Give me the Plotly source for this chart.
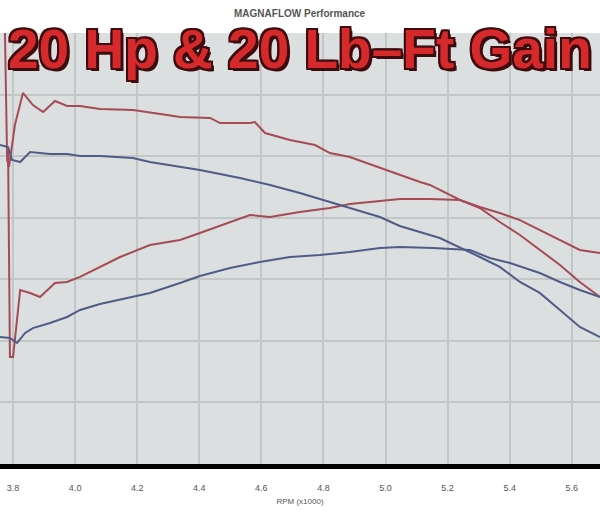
import plotly.graph_objects as go

# RPM (x1000) and readings
red_tq_rpm = [3.774, 3.781, 3.787, 3.806, 3.832, 3.864, 3.897, 3.935, 3.974, 4.016, 4.080, 4.187, 4.296,
              4.338, 4.435, 4.467, 4.563, 4.579, 4.612, 4.692, 4.773, 4.821, 4.885, 4.982, 5.046, 5.111,
              5.143, 5.240, 5.304, 5.368, 5.433, 5.497, 5.562, 5.626, 5.691]
red_tq = [350.0, 246.9, 241.2, 275.3, 301.3, 291.5, 285.8, 294.8, 290.7, 290.7, 288.3, 287.5, 283.4,
          281.8, 281.0, 276.9, 276.9, 277.7, 268.8, 263.1, 259.0, 252.5, 249.3, 240.4, 234.7, 229.0,
          226.6, 214.4, 207.9, 196.5, 186.0, 173.8, 161.6, 147.8, 135.6]

red_hp_rpm = [3.784, 3.790, 3.800, 3.823, 3.855, 3.887, 3.935, 3.974, 4.016, 4.080, 4.145, 4.241, 4.338,
              4.402, 4.499, 4.563, 4.628, 4.724, 4.821, 4.885, 4.982, 5.046, 5.143, 5.240, 5.304, 5.368,
              5.433, 5.497, 5.562, 5.626, 5.691]
red_hp = [255.0, 86.9, 86.9, 141.3, 138.9, 135.6, 147.0, 147.8, 151.9, 160.0, 168.1, 177.8, 181.9,
          187.6, 196.5, 202.2, 200.6, 204.6, 207.9, 211.1, 213.6, 215.2, 215.2, 214.4, 208.7, 203.8,
          198.1, 190.0, 181.9, 173.8, 171.3]

blue_tq_rpm = [3.758, 3.784, 3.797, 3.823, 3.855, 3.919, 3.974, 4.016, 4.080, 4.186, 4.241, 4.296, 4.402,
               4.531, 4.628, 4.724, 4.821, 4.885, 4.982, 5.046, 5.175, 5.304, 5.368, 5.433, 5.497, 5.562,
               5.626, 5.691]
blue_tq = [259.0, 257.4, 246.9, 245.2, 253.4, 251.7, 251.7, 250.1, 250.1, 248.5, 245.2, 242.8, 238.7,
           232.2, 226.6, 220.1, 212.8, 207.9, 200.6, 193.3, 183.5, 168.1, 160.0, 147.8, 138.9, 125.1,
           111.3, 103.1]

blue_hp_rpm = [3.758, 3.790, 3.813, 3.839, 3.864, 3.919, 3.974, 4.016, 4.080, 4.241, 4.338, 4.402, 4.499,
               4.595, 4.692, 4.789, 4.885, 4.982, 5.046, 5.153, 5.272, 5.336, 5.401, 5.497, 5.562, 5.626,
               5.691]
blue_hp = [103.1, 102.3, 98.3, 106.4, 110.4, 114.5, 119.4, 125.1, 129.9, 138.9, 147.0, 152.7, 159.2,
           164.0, 168.1, 169.7, 172.2, 175.4, 176.2, 175.4, 173.8, 167.3, 163.2, 155.1, 147.8, 141.3,
           135.6]

tick_vals = [3.8, 4.0, 4.2, 4.4, 4.6, 4.8, 5.0, 5.2, 5.4, 5.6]
tick_text = ["3.8", "4.0", "4.2", "4.4", "4.6", "4.8", "5.0", "5.2", "5.4", "5.6"]

RED = "#a54b56"
BLUE = "#4f5c88"

fig = go.Figure()
for xs, ys, col in [(red_tq_rpm, red_tq, RED), (red_hp_rpm, red_hp, RED),
                    (blue_tq_rpm, blue_tq, BLUE), (blue_hp_rpm, blue_hp, BLUE)]:
    fig.add_trace(go.Scatter(x=xs, y=ys, mode="lines",
                             line=dict(color=col, width=2), showlegend=False,
                             hoverinfo="skip"))

outline = "#3c0c0e"
shadow = ", ".join(f"{dx}px {dy}px 0 {outline}" for dx, dy in
                   [(-2, -2), (2, -2), (-2, 2), (2, 2), (0, -2), (0, 2), (-2, 0), (2, 0), (3, 3)])

fig.update_layout(
    width=600, height=515,
    margin=dict(l=0, r=0, t=33, b=51, autoexpand=False),
    paper_bgcolor="white",
    plot_bgcolor="#dcdfdf",
    xaxis=dict(range=[3.758, 5.691], tickvals=tick_vals, ticktext=tick_text,
               automargin=False,
               showgrid=True, gridcolor="#c3c6c6", gridwidth=1.5,
               showline=True, linecolor="black", linewidth=5,
               zeroline=False, ticks="", ticklabelstandoff=11,
               tickfont=dict(family="Liberation Sans", size=9, color="#555555"),
               title=dict(text="RPM (x1000)", standoff=8,
                          font=dict(family="Liberation Sans", size=8, color="#555555"))),
    yaxis=dict(range=[0, 350], dtick=50, showgrid=True, gridcolor="#c3c6c6", gridwidth=1.5,
               automargin=False,
               showticklabels=False, zeroline=False, ticks=""),
    annotations=[
        dict(text="<b>MAGNAFLOW Performance</b>", x=0.5, xref="paper", y=1, yref="paper",
             yanchor="middle", yshift=20, showarrow=False,
             font=dict(family="Liberation Sans", size=10, color="#555555")),
        dict(text="<b>20 Hp & 20 Lb–Ft Gain</b>", x=0.5, xref="paper", y=1, yref="paper",
             yanchor="middle", yshift=-16, showarrow=False,
             font=dict(family="Liberation Sans", size=55, color="#d6292b", shadow=shadow)),
    ],
)

fig.write_html("out.html", config={"displayModeBar": False},
               post_script="document.body.style.margin='0';document.body.style.overflow='hidden';")
